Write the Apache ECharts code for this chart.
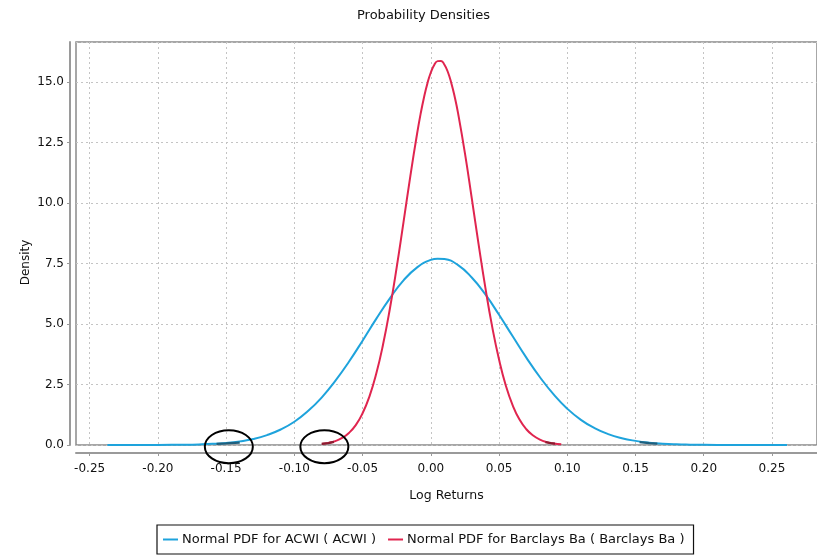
<!DOCTYPE html>
<html>
<head>
<meta charset="utf-8">
<script src="https://cdn.jsdelivr.net/npm/echarts@6/dist/echarts.min.js"></script>
<style>
html,body{margin:0;padding:0;background:#fff;}
#c{width:817px;height:557px;}
</style>
</head>
<body>
<div id="c"></div>
<script>
// ---- data ----
const chartTitle = 'Probability Densities';
const xName = 'Log Returns';
const yName = 'Density';
const seriesNames = ['Normal PDF for ACWI ( ACWI )', 'Normal PDF for Barclays Ba ( Barclays Ba )'];

const xTicks = [-0.25, -0.20, -0.15, -0.10, -0.05, 0.00, 0.05, 0.10, 0.15, 0.20, 0.25];

// ACWI curve: [log return, density]
const acwiX = [-0.237, -0.22, -0.20, -0.18, -0.17, -0.16, -0.15, -0.14, -0.13, -0.12, -0.11, -0.10, -0.09, -0.08, -0.07, -0.06, -0.05, -0.04, -0.03, -0.02, -0.01, 0.00, 0.005, 0.01, 0.02, 0.03, 0.04, 0.05, 0.06, 0.07, 0.08, 0.09, 0.10, 0.11, 0.12, 0.13, 0.14, 0.15, 0.16, 0.17, 0.18, 0.19, 0.20, 0.22, 0.261];
const acwiY = [0.000, 0.001, 0.003, 0.013, 0.025, 0.047, 0.085, 0.15, 0.25, 0.41, 0.64, 0.96, 1.40, 1.96, 2.65, 3.44, 4.31, 5.21, 6.06, 6.80, 7.34, 7.65, 7.70, 7.68, 7.43, 6.92, 6.22, 5.38, 4.49, 3.61, 2.80, 2.09, 1.50, 1.04, 0.70, 0.45, 0.28, 0.17, 0.096, 0.053, 0.028, 0.015, 0.007, 0.0015, 0.000];

// Barclays curve
const barcX = [-0.0795, -0.075, -0.07, -0.065, -0.06, -0.055, -0.05, -0.045, -0.04, -0.035, -0.03, -0.025, -0.02, -0.015, -0.01, -0.0075, -0.005, -0.0025, 0.00, 0.0025, 0.005, 0.0075, 0.01, 0.0125, 0.015, 0.0175, 0.02, 0.025, 0.03, 0.035, 0.04, 0.045, 0.05, 0.055, 0.06, 0.065, 0.07, 0.075, 0.08, 0.085, 0.09, 0.0956];
const barcY = [0.05, 0.087, 0.162, 0.29, 0.50, 0.82, 1.31, 2.00, 2.94, 4.15, 5.63, 7.34, 9.21, 11.11, 12.88, 13.67, 14.36, 14.94, 15.39, 15.70, 15.86, 15.87, 15.71, 15.41, 14.96, 14.39, 13.70, 12.06, 10.20, 8.30, 6.49, 4.88, 3.53, 2.45, 1.64, 1.05, 0.65, 0.39, 0.22, 0.12, 0.064, 0.03];

// darker highlighted tail pieces
const acwiMarkLeftX = [-0.157, -0.15, -0.14];
const acwiMarkLeftY = [0.05, 0.07, 0.10];
const acwiMarkRightX = [0.153, 0.16, 0.166];
const acwiMarkRightY = [0.12, 0.08, 0.06];
const barcMarkLeftX = [-0.08, -0.075, -0.071];
const barcMarkLeftY = [0.045, 0.08, 0.13];
const barcMarkRightX = [0.084, 0.088, 0.091];
const barcMarkRightY = [0.12, 0.08, 0.06];

// annotation ellipse centres (data space)
const annotX = [-0.148, -0.078];
const annotY = [-0.07, -0.07];

const zip = (xs, ys) => xs.map((x, i) => [x, ys[i]]);

const FONT = 'DejaVu Sans';
const TXT = '#111';
const chart = echarts.init(document.getElementById('c'), null, {renderer: 'canvas'});

const markSeries = (xs, ys, color) => ({
  type: 'line', data: zip(xs, ys), symbol: 'none', clip: false, silent: true,
  lineStyle: {color: color, width: 2.2}, z: 5, legendHoverLink: false
});

chart.setOption({
  animation: false,
  backgroundColor: '#fff',
  textStyle: {fontFamily: FONT},
  title: {
    text: chartTitle, left: 352, top: 4,
    textStyle: {fontFamily: FONT, fontSize: 13, fontWeight: 'normal', color: TXT}
  },
  grid: {
    left: 76, top: 42, right: -3, bottom: 112,
    show: true, borderColor: '#8a8a8a', borderWidth: 1.5, backgroundColor: '#fff'
  },
  legend: {
    data: seriesNames,
    left: 157, bottom: 3,
    borderColor: '#111', borderWidth: 1.2, borderRadius: 0,
    padding: [8, 9, 8, 6],
    itemWidth: 15, itemHeight: 2, itemGap: 12,
    icon: 'rect',
    textStyle: {fontFamily: FONT, fontSize: 13, color: TXT, padding: [0, 0, 0, -1]}
  },
  xAxis: {
    type: 'value', min: -0.26, max: 0.283,
    offset: 8,
    name: xName, nameLocation: 'middle', nameGap: 36,
    nameTextStyle: {fontFamily: FONT, fontSize: 12.5, color: TXT},
    axisLine: {show: true, onZero: false, lineStyle: {color: '#9a9a9a', width: 2}},
    axisTick: {show: true, customValues: xTicks, length: 3, lineStyle: {color: '#9a9a9a'}},
    axisLabel: {customValues: xTicks, formatter: v => v.toFixed(2), fontFamily: FONT, fontSize: 12, color: TXT, margin: 10},
    splitLine: {show: true, lineStyle: {color: '#c4c4c4', type: [2, 3], width: 1}}
  },
  yAxis: {
    type: 'value', min: 0, max: 16.65, interval: 2.5,
    offset: 6,
    name: yName, nameLocation: 'middle', nameGap: 38, nameRotate: 90, nameMoveOverlap: false,
    nameTextStyle: {fontFamily: FONT, fontSize: 12, color: TXT, padding: [0, 38, 0, 0]},
    axisLine: {show: true, onZero: false, lineStyle: {color: '#9a9a9a', width: 2}},
    axisTick: {show: true, length: 3, lineStyle: {color: '#9a9a9a'}},
    axisLabel: {formatter: v => v.toFixed(1), showMaxLabel: false, fontFamily: FONT, fontSize: 12, color: TXT, margin: 6},
    splitLine: {show: true, lineStyle: {color: '#c4c4c4', type: [2, 3], width: 1}}
  },
  series: [
    {
      name: seriesNames[0], type: 'line', data: zip(acwiX, acwiY), smooth: true,
      symbol: 'none', clip: false, itemStyle: {color: '#1ea3dc'},
      lineStyle: {color: '#1ea3dc', width: 2}, z: 3
    },
    {
      name: seriesNames[1], type: 'line', data: zip(barcX, barcY), smooth: true,
      symbol: 'none', clip: false, itemStyle: {color: '#e0254f'},
      lineStyle: {color: '#e0254f', width: 2}, z: 4
    },
    markSeries(acwiMarkLeftX, acwiMarkLeftY, '#1f5f7d'),
    markSeries(acwiMarkRightX, acwiMarkRightY, '#1f5f7d'),
    markSeries(barcMarkLeftX, barcMarkLeftY, '#8c1c30'),
    markSeries(barcMarkRightX, barcMarkRightY, '#8c1c30')
  ]
});

// annotation ellipses placed via the chart's own coordinate conversion
const ellipses = annotX.map((x, i) => {
  const p = chart.convertToPixel({gridIndex: 0}, [x, annotY[i]]);
  return {
    type: 'ellipse', z: 100, silent: true,
    shape: {cx: p[0], cy: p[1], rx: 24, ry: 16.5},
    style: {fill: 'none', stroke: '#000', lineWidth: 2}
  };
});
chart.setOption({graphic: ellipses});
</script>
</body>
</html>
